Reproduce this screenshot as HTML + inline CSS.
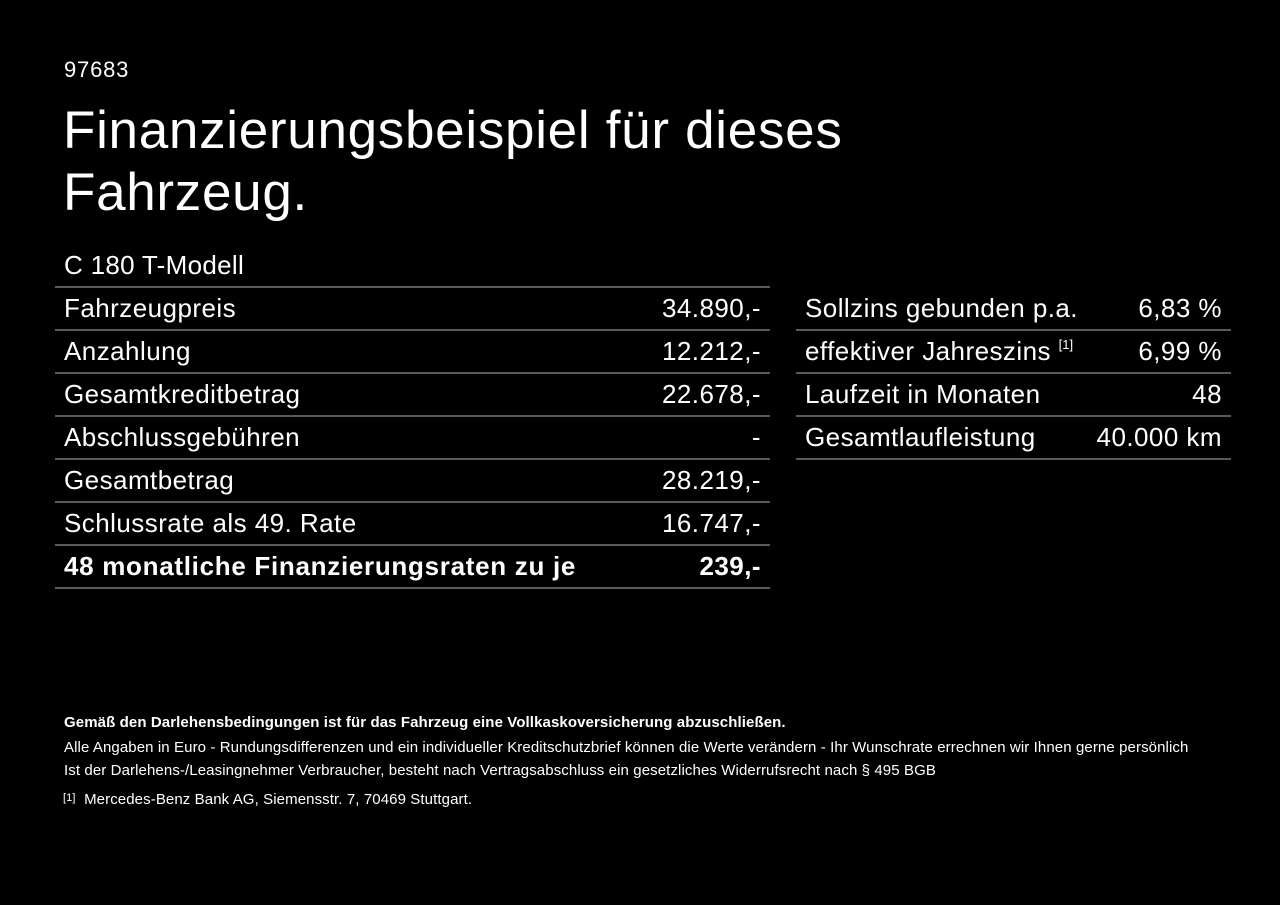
<!DOCTYPE html>
<html><head><meta charset="utf-8"><style>
body{margin:0;width:1280px;height:905px;background:#000;color:#fff;font-family:"Liberation Sans",sans-serif;position:relative;overflow:hidden}
.a{position:absolute;white-space:nowrap}
.l{position:absolute;height:2px;background:#5a5a5a}
.r{position:absolute;font-size:26px;letter-spacing:0.45px;line-height:43px;white-space:nowrap}
.s{font-size:13px;position:relative;top:-11px;letter-spacing:0}
</style></head><body>
<div class="a" style="left:64px;top:57px;font-size:22px;letter-spacing:0.8px">97683</div>
<div class="a" style="left:63px;top:100px;font-size:53px;letter-spacing:0.7px;line-height:62px">Finanzierungsbeispiel für dieses<br>Fahrzeug.</div>
<div class="a" style="left:64px;top:250px;font-size:26px;letter-spacing:0.3px">C 180 T-Modell</div>

<div class="l" style="left:55px;width:715px;top:286px"></div>
<div class="l" style="left:55px;width:715px;top:329px"></div>
<div class="l" style="left:55px;width:715px;top:372px"></div>
<div class="l" style="left:55px;width:715px;top:415px"></div>
<div class="l" style="left:55px;width:715px;top:458px"></div>
<div class="l" style="left:55px;width:715px;top:501px"></div>
<div class="l" style="left:55px;width:715px;top:544px"></div>
<div class="l" style="left:55px;width:715px;top:587px"></div>

<div class="r" style="left:64px;top:287px">Fahrzeugpreis</div><div class="r" style="right:519px;top:287px">34.890,-</div>
<div class="r" style="left:64px;top:330px">Anzahlung</div><div class="r" style="right:519px;top:330px">12.212,-</div>
<div class="r" style="left:64px;top:373px">Gesamtkreditbetrag</div><div class="r" style="right:519px;top:373px">22.678,-</div>
<div class="r" style="left:64px;top:416px">Abschlussgebühren</div><div class="r" style="right:519px;top:416px">-</div>
<div class="r" style="left:64px;top:459px">Gesamtbetrag</div><div class="r" style="right:519px;top:459px">28.219,-</div>
<div class="r" style="left:64px;top:502px">Schlussrate als 49. Rate</div><div class="r" style="right:519px;top:502px">16.747,-</div>
<div class="r" style="left:64px;top:545px;font-weight:bold;letter-spacing:0.7px">48 monatliche Finanzierungsraten zu je</div><div class="r" style="right:519px;top:545px;font-weight:bold">239,-</div>

<div class="l" style="left:796px;width:435px;top:329px"></div>
<div class="l" style="left:796px;width:435px;top:372px"></div>
<div class="l" style="left:796px;width:435px;top:415px"></div>
<div class="l" style="left:796px;width:435px;top:458px"></div>
<div class="r" style="left:805px;top:287px">Sollzins gebunden p.a.</div><div class="r" style="right:58px;top:287px">6,83 %</div>
<div class="r" style="left:805px;top:330px">effektiver Jahreszins <span class="s">[1]</span></div><div class="r" style="right:58px;top:330px">6,99 %</div>
<div class="r" style="left:805px;top:373px">Laufzeit in Monaten</div><div class="r" style="right:58px;top:373px">48</div>
<div class="r" style="left:805px;top:416px">Gesamtlaufleistung</div><div class="r" style="right:58px;top:416px">40.000 km</div>

<div class="a" style="left:64px;top:714px;font-size:15px;font-weight:bold;letter-spacing:0.1px">Gemäß den Darlehensbedingungen ist für das Fahrzeug eine Vollkaskoversicherung abzuschließen.</div>
<div class="a" style="left:64px;top:739px;font-size:15px;letter-spacing:0.1px">Alle Angaben in Euro - Rundungsdifferenzen und ein individueller Kreditschutzbrief können die Werte verändern - Ihr Wunschrate errechnen wir Ihnen gerne persönlich</div>
<div class="a" style="left:64px;top:762px;font-size:15px;letter-spacing:0.1px">Ist der Darlehens-/Leasingnehmer Verbraucher, besteht nach Vertragsabschluss ein gesetzliches Widerrufsrecht nach § 495 BGB</div>
<div class="a" style="left:63px;top:791px;font-size:15px;letter-spacing:0.1px"><span style="font-size:11px;position:relative;top:-3px">[1]</span>&nbsp; Mercedes-Benz Bank AG, Siemensstr. 7, 70469 Stuttgart.</div>
</body></html>
